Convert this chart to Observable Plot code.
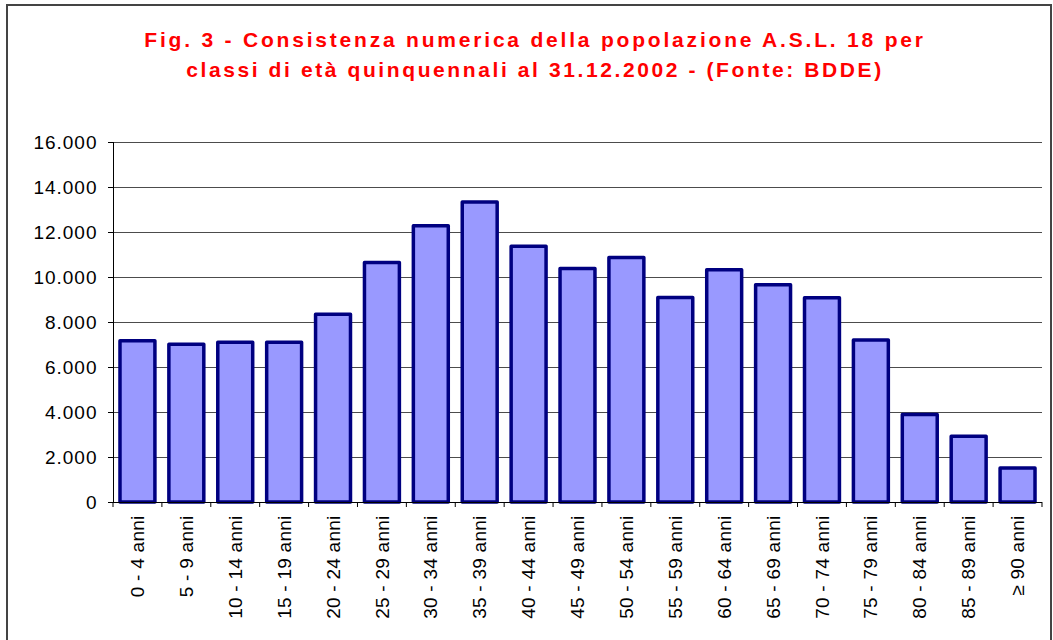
<!DOCTYPE html>
<html>
<head>
<meta charset="utf-8">
<script src="https://cdn.jsdelivr.net/npm/d3@7"></script>
<script src="https://cdn.jsdelivr.net/npm/@observablehq/plot@0.6"></script>
<style>
  html, body { margin: 0; padding: 0; background: #fff; width: 1053px; height: 640px; overflow: hidden; }
  #frame { position: absolute; left: 6px; top: 4px; width: 1046px; height: 700px; border: 2px solid #444; box-sizing: border-box; }
  #chart { position: absolute; left: 0; top: 0; }
  #title { position: absolute; left: 0; top: 25px; width: 1070px; text-align: center;
           font-family: "Liberation Sans", Arial, sans-serif; font-weight: bold; font-size: 21px;
           line-height: 30px; color: #ff0000; }
  #t1 { letter-spacing: 2.8px; }
  #t2 { letter-spacing: 2.6px; }
</style>
</head>
<body>
<div id="frame"></div>
<div id="chart"></div>
<div id="title"><span id="t1">Fig. 3 - Consistenza numerica della popolazione A.S.L. 18 per</span><br><span id="t2">classi di età quinquennali al 31.12.2002 - (Fonte: BDDE)</span></div>
<script>
const categories = ["0 - 4 anni", "5 - 9 anni", "10 - 14 anni", "15 - 19 anni", "20 - 24 anni",
  "25 - 29 anni", "30 - 34 anni", "35 - 39 anni", "40 - 44 anni", "45 - 49 anni",
  "50 - 54 anni", "55 - 59 anni", "60 - 64 anni", "65 - 69 anni", "70 - 74 anni",
  "75 - 79 anni", "80 - 84 anni", "85 - 89 anni", "≥ 90 anni"];
const values = [7170, 7010, 7100, 7100, 8350, 10640, 12280, 13330, 11370, 10380,
  10870, 9090, 10320, 9660, 9080, 7200, 3890, 2920, 1510];
const yTicks = [0, 2000, 4000, 6000, 8000, 10000, 12000, 14000, 16000];

const data = categories.map((c, i) => ({cat: c, value: values[i]}));
const itFmt = d3.formatLocale({decimal: ",", thousands: ".", grouping: [3], currency: ["", ""]}).format(",d");

const plot = Plot.plot({
  width: 1053,
  height: 640,
  marginLeft: 113,
  marginRight: 11,
  marginTop: 142,
  marginBottom: 138,
  style: {background: "transparent", fontFamily: "Liberation Sans, Arial, sans-serif", fontSize: "19px", color: "#000", overflow: "visible"},
  x: {domain: categories, paddingInner: 0.2857, paddingOuter: 0.1429, round: false, tickRotate: -90, tickSize: 0, tickPadding: 13, label: null},
  y: {domain: [0, 16000], ticks: yTicks, tickFormat: itFmt, tickSize: 5, tickPadding: 11, label: null, line: true},
  marks: [
    Plot.ruleY(yTicks.filter(d => d > 0), {stroke: "#000", strokeOpacity: 0.7}),
    Plot.barY(data, {x: "cat", y: "value", fill: "#9999FF", stroke: "#000080", strokeWidth: 3.5, strokeLinejoin: "round"}),
    Plot.ruleY([0], {stroke: "#000"})
  ]
});

// category boundary ticks on the x axis, from the plot's own scales
(function () {
  const sx = plot.scale("x"), sy = plot.scale("y");
  const starts = categories.map(c => sx.apply(c));
  const step = sx.step ?? (starts[1] - starts[0]);
  const bw = sx.bandwidth ?? step * (1 - 0.2857);
  const gap = (step - bw) / 2;
  const bounds = starts.map(s => s - gap).concat([starts[starts.length - 1] + bw + gap]);
  const y0 = sy.apply(0);
  const g = d3.select(plot).append("g").attr("stroke", "#000");
  bounds.forEach(b => g.append("line").attr("x1", b).attr("x2", b).attr("y1", y0).attr("y2", y0 + 5));
})();

// slightly wider letter spacing for tick labels, as in the original
const yLabels = new Set(yTicks.map(itFmt));
const xLabels = new Set(categories);
plot.querySelectorAll("text").forEach(t => {
  if (yLabels.has(t.textContent)) t.setAttribute("letter-spacing", "1px");
  else if (xLabels.has(t.textContent)) t.setAttribute("letter-spacing", "0.25px");
});

document.getElementById("chart").appendChild(plot);
</script>
</body>
</html>
